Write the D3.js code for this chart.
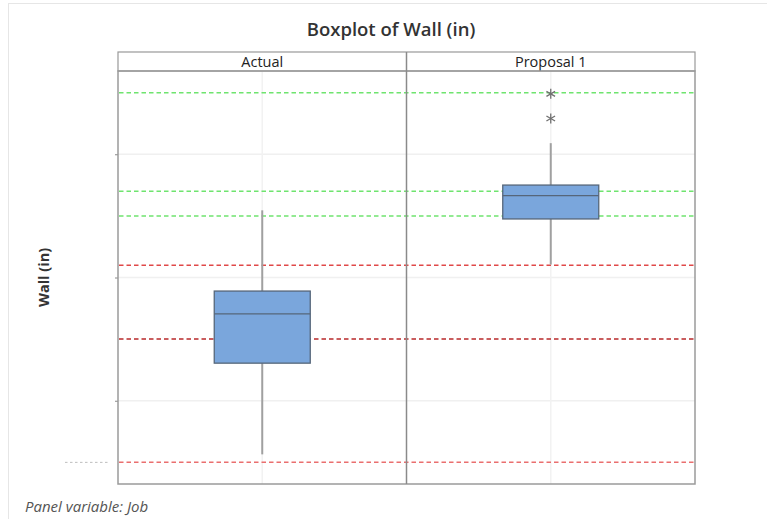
<!DOCTYPE html>
<html>
<head>
<meta charset="utf-8">
<script src="https://cdn.jsdelivr.net/npm/d3@7"></script>
<style>
  html, body { margin: 0; padding: 0; background: #fff; }
  svg { display: block; }
</style>
</head>
<body>
<svg id="chart" width="767" height="519"></svg>
<script>
// Panels (levels of Job)
const panels = ["Actual", "Proposal 1"];

// Five-number summaries per panel: lower whisker, Q1, median, Q3, upper whisker
const whiskerLow  = [0.2913, 0.3221];
const q1          = [0.3061, 0.3295];
const median      = [0.3141, 0.3333];
const q3          = [0.3178, 0.3350];
const whiskerHigh = [0.3309, 0.3418];

// Outliers (panel index, value)
const outlierPanel = [1, 1];
const outlierValue = [0.3498, 0.3458];

// Y axis tick positions (labels are hidden on this chart)
const yTicks = [0.30, 0.32, 0.34];

// Horizontal reference lines
const refValues = [0.350, 0.334, 0.330, 0.322, 0.310, 0.290];
const refColors = ["#6fe46f", "#6fe46f", "#6fe46f", "#e04848", "#b8282a", "#ea6f6f"];

const svg = d3.select("#chart");

// Outer frame
svg.append("rect")
  .attr("x", 8.5).attr("y", 3.5).attr("width", 770).attr("height", 530)
  .attr("fill", "none").attr("stroke", "#e6e6e6").attr("stroke-width", 1);

const plotL = 118, plotR = 695, stripTop = 52, plotTop = 71, plotBottom = 484;

const x = d3.scaleBand().domain(panels).range([plotL, plotR]).paddingInner(0).paddingOuter(0);
const y = d3.scaleLinear().domain([0.28649, 0.35351]).range([plotBottom, plotTop]);

// Title
svg.append("text")
  .attr("x", 391).attr("y", 36)
  .attr("text-anchor", "middle")
  .attr("font-family", "'Open Sans', sans-serif")
  .attr("font-weight", 600)
  .attr("font-size", 18.5)
  .attr("fill", "#333")
  .text("Boxplot of Wall (in)");

// Y axis title
svg.append("text")
  .attr("transform", `translate(49,${(plotTop + plotBottom) / 2}) rotate(-90)`)
  .attr("text-anchor", "middle")
  .attr("font-family", "'Open Sans', sans-serif")
  .attr("font-weight", 700)
  .attr("font-size", 14.5)
  .attr("fill", "#333")
  .text("Wall (in)");

// Footnote
svg.append("text")
  .attr("x", 25).attr("y", 512)
  .attr("font-family", "'Open Sans', sans-serif")
  .attr("font-style", "italic")
  .attr("font-size", 15)
  .attr("fill", "#555")
  .text("Panel variable: Job");

// Horizontal gridlines
svg.append("g").selectAll("line").data(yTicks).join("line")
  .attr("x1", plotL).attr("x2", plotR)
  .attr("y1", d => y(d)).attr("y2", d => y(d))
  .attr("stroke", "#f0f0f0").attr("stroke-width", 1.5);

// Vertical gridlines at panel centers
svg.append("g").selectAll("line").data(panels).join("line")
  .attr("x1", d => x(d) + x.bandwidth() / 2).attr("x2", d => x(d) + x.bandwidth() / 2)
  .attr("y1", plotTop).attr("y2", plotBottom)
  .attr("stroke", "#f2f2f2").attr("stroke-width", 1.5);

// Y axis tick marks without labels
const yAxis = d3.axisLeft(y).tickValues(yTicks).tickSize(3).tickFormat("");
const yAxisG = svg.append("g").attr("transform", `translate(${plotL},0)`).call(yAxis);
yAxisG.select(".domain").remove();
yAxisG.selectAll(".tick line").attr("stroke", "#888").attr("stroke-width", 1);

// Reference lines
svg.append("g").selectAll("line").data(refValues).join("line")
  .attr("x1", plotL + 1).attr("x2", plotR - 1)
  .attr("y1", d => y(d)).attr("y2", d => y(d))
  .attr("stroke", (d, i) => refColors[i])
  .attr("stroke-width", 1.5)
  .attr("stroke-dasharray", "4.5,3");

// Faint marker beside the axis for the lowest reference line
svg.append("line")
  .attr("x1", 65).attr("x2", 108)
  .attr("y1", y(refValues[5])).attr("y2", y(refValues[5]))
  .attr("stroke", "#bdbdbd").attr("stroke-width", 1)
  .attr("stroke-dasharray", "2.5,2.5");

// Boxes
const boxW = 96;
const g = svg.append("g");
panels.forEach((p, i) => {
  const cx = x(p) + x.bandwidth() / 2;
  // whiskers
  g.append("line")
    .attr("x1", cx).attr("x2", cx)
    .attr("y1", y(whiskerHigh[i])).attr("y2", y(q3[i]))
    .attr("stroke", "#a0a0a0").attr("stroke-width", 2);
  g.append("line")
    .attr("x1", cx).attr("x2", cx)
    .attr("y1", y(q1[i])).attr("y2", y(whiskerLow[i]))
    .attr("stroke", "#a0a0a0").attr("stroke-width", 2);
  // box
  g.append("rect")
    .attr("x", cx - boxW / 2).attr("width", boxW)
    .attr("y", y(q3[i])).attr("height", y(q1[i]) - y(q3[i]))
    .attr("fill", "#7aa6dc").attr("stroke", "#56667a").attr("stroke-width", 1.3);
  // median
  g.append("line")
    .attr("x1", cx - boxW / 2).attr("x2", cx + boxW / 2)
    .attr("y1", y(median[i])).attr("y2", y(median[i]))
    .attr("stroke", "#56667a").attr("stroke-width", 1.3);
});

// Outliers drawn as six-armed asterisks
const outG = svg.append("g");
outlierValue.forEach((v, k) => {
  const cx = x(panels[outlierPanel[k]]) + x.bandwidth() / 2;
  const cy = y(v);
  const r = 5;
  [0, 60, 120].forEach(a => {
    const rad = a * Math.PI / 180;
    outG.append("line")
      .attr("x1", cx - r * Math.sin(rad)).attr("y1", cy - r * Math.cos(rad))
      .attr("x2", cx + r * Math.sin(rad)).attr("y2", cy + r * Math.cos(rad))
      .attr("stroke", "#707070").attr("stroke-width", 1.3);
  });
});

// Panel strip frame and labels
svg.append("rect")
  .attr("x", plotL).attr("y", stripTop).attr("width", plotR - plotL).attr("height", plotTop - stripTop)
  .attr("fill", "#fff").attr("stroke", "#999").attr("stroke-width", 1.2);
svg.append("g").selectAll("text").data(panels).join("text")
  .attr("x", d => x(d) + x.bandwidth() / 2)
  .attr("y", stripTop + 15)
  .attr("text-anchor", "middle")
  .attr("font-family", "'Open Sans', sans-serif")
  .attr("font-size", 14.5)
  .attr("fill", "#222")
  .text(d => d);

// Panel frames
svg.append("rect")
  .attr("x", plotL).attr("y", plotTop).attr("width", plotR - plotL).attr("height", plotBottom - plotTop)
  .attr("fill", "none").attr("stroke", "#9a9a9a").attr("stroke-width", 1.5);
svg.append("line")
  .attr("x1", x(panels[1])).attr("x2", x(panels[1]))
  .attr("y1", stripTop).attr("y2", plotBottom)
  .attr("stroke", "#8a8a8a").attr("stroke-width", 1.5);
</script>
</body>
</html>
